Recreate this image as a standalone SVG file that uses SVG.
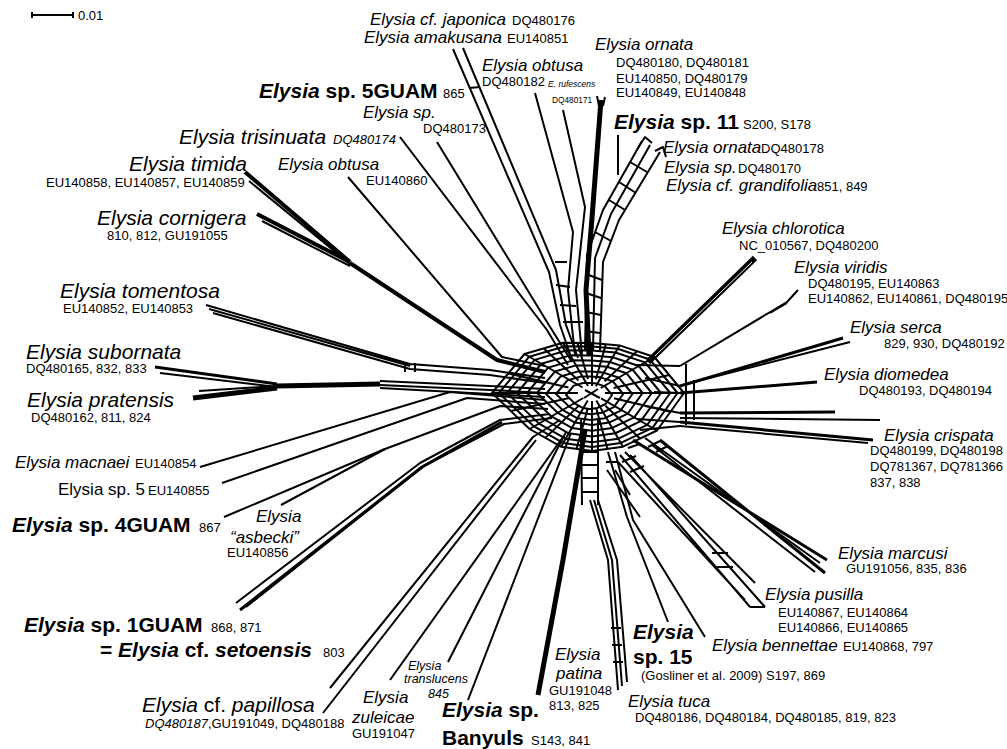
<svg xmlns="http://www.w3.org/2000/svg" width="1007" height="749" viewBox="0 0 1007 749">
<style>
text{font-family:"Liberation Sans",Arial,sans-serif;fill:#000}
.L{font-size:21px;font-style:italic}
.M{font-size:17px;font-style:italic}
.S{font-size:12.5px;font-style:italic}
.a{font-size:13px}
.B{font-size:21px;font-weight:bold}
.i{font-style:italic}
.n{font-style:normal}
.e{fill:none;stroke:#000;stroke-width:2;stroke-linejoin:round}
.t{fill:none;stroke:#000;stroke-width:2}
.r{fill:none;stroke:#000;stroke-width:2;stroke-linejoin:round}
.w3{stroke-width:3}
.w4{stroke-width:4}
.w5{stroke-width:5}
</style>
<rect width="1007" height="749" fill="#fff"/>
<g id="scale">
<path class="e" d="M32,15 L73,15 M32,12 L32,18 M73,12 L73,18"/>
<text class="a" x="78" y="20">0.01</text>
</g>
<g id="connectors">
<!-- upper branches -->
<path class="e" d="M453,49 L549,272 L560,325 L572,360"/>
<path class="e" d="M463,48 L556,270 L566,325 L578,358"/>
<path class="e" d="M469,88 L480,87"/>
<path class="e" d="M535,93 L573,232 L568,290 L575,355"/>
<path class="e" d="M563,110 L585,207 L576,290 L582,355"/>
<path class="e w5" d="M601,100 L592,218 L586,290 L589,355"/>
<path class="e" d="M597,96 L599,106 M605,97 L603,106"/>
<path class="e" d="M618,135 L618,175"/>
<path class="e" d="M642,141 L603,210 L587,255 L585,350 M650,145 L611,214 L595,258 L593,350 M660,152 L619,220 L603,262 L600,350"/>
<path class="e" d="M638,148 L645,137 L652,143 M655,151 L663,147 L666,157 M630,162 L647,172 M619,182 L636,193 M609,200 L625,210 M595,232 L611,241 M586,274 L602,280 M586,293 L601,298 M586,312 L601,315 M585,331 L600,333"/>
<path class="e" d="M556,285 L570,287 M560,305 L576,306 M563,322 L583,322 M555,262 L567,262"/>
<!-- upper left -->
<path class="e" d="M400,137 L547,330 L568,365"/>
<path class="e" d="M437,142 L547,322 L572,362"/>
<path class="e" d="M348,177 L502,357 L545,366"/>
<path class="e w4" d="M245,172 L350,262"/>
<path class="e" d="M249,181 L350,264"/>
<path class="e w4" d="M257,214 L350,262"/>
<path class="e" d="M262,221 L350,266"/>
<path class="e w4" d="M350,263 L497,360 L545,372"/>
<!-- left -->
<path class="e" d="M206,305 L410,364 L490,370 L545,378 M213,313 L410,369 L490,375 L545,383 M209,309 L410,366"/>
<path class="e" d="M405,362 L405,372 M415,363 L415,372"/>
<path class="e w3" d="M155,367 L277,384"/>
<path class="e" d="M160,373 L277,387"/>
<path class="e w5" d="M193,398 L277,388"/>
<path class="e" d="M199,391 L277,386"/>
<path class="e w5" d="M277,386 L380,384"/>
<path class="e" d="M380,381 L490,386 L545,389 M380,385 L490,390 L545,393 M380,388 L490,394 L545,397"/>
<path class="e" d="M200,467 L450,392 L545,400"/>
<path class="e" d="M222,483 L467,398 L545,404"/>
<path class="e" d="M224,517 L385,449 L500,406 L548,409"/>
<path class="e" d="M281,505 L385,449"/>
<path class="e" d="M236,603 L420,463 L500,420 L550,414 M246,607 L424,466 L504,424 L552,418"/>
<path class="e w3" d="M240,610 L422,467 L502,422"/>
<!-- lower -->
<path class="e" d="M330,688 L533,437 L560,420"/>
<path class="e" d="M323,713 L536,440"/>
<path class="e" d="M390,680 L563,437"/>
<path class="e" d="M448,662 L500,560 L566,432"/>
<path class="e" d="M468,700 L522,560 L571,433"/>
<path class="e w5" d="M538,695 L563,560 L585,430"/>
<path class="e" d="M581,420 L582,505 M598,420 L598,505 M581,452 L598,452 M581,465 L598,465 M581,478 L598,478 M582,492 L598,492"/>
<path class="e" d="M618,690 L608,560 L590,500 M627,682 L617,560 L598,500 M622,686 L612,560 L594,500"/>
<path class="e" d="M611,628 L621,628 M612,645 L622,645 M613,662 L623,662"/>
<path class="e" d="M668,622 L627,517 L608,452"/>
<path class="e" d="M705,637 L633,520 L615,452"/>
<path class="e" d="M607,470 L640,517 M615,470 L630,495 M606,462 L618,462"/>
<!-- lower right -->
<path class="e" d="M620,455 L750,607 M630,455 L765,607 M625,452 L755,583 M618,462 L745,600 M750,607 L765,607"/>
<path class="e" d="M712,553 L728,553 M716,567 L733,567 M628,448 L640,444 M622,462 L636,456 M630,472 L644,466 M648,447 L660,441 M656,452 L668,446"/>
<path class="e w3" d="M633,440 L827,560 M660,440 L825,573"/>
<path class="e" d="M645,438 L820,563 M652,445 L815,572"/>
<path class="e w3" d="M680,413 L835,412 M680,422 L873,440"/>
<path class="e" d="M680,418 L880,420 M680,426 L868,443"/>
<path class="e w3" d="M680,393 L817,382"/>
<path class="e w3" d="M680,386 L843,338"/>
<path class="e" d="M690,383 L850,342"/>
<path class="e" d="M680,366 L787,302 L798,290 M770,313 L787,303"/>
<path class="e" d="M648,362 L755,258" style="stroke-width:6"/>
<path d="M655,356 L752,262" style="stroke:#fff;stroke-width:1;fill:none"/>
<!-- right arm -->
<path class="e" d="M637,365 L680,366 M645,378 L680,386 M654,392 L680,393 M645,406 L680,413 M637,419 L680,422 M640,430 L680,426"/>
<path class="e" d="M686,364 L686,425 M694,380 L694,420"/>
<!-- core mesh: nested rings -->
<path class="r" vector-effect="non-scaling-stroke" transform="translate(590 395) scale(0.24)" d="M92,0 L65,37.5 L31,53.7 L0,58 L-31,53.7 L-62.4,36 L-100,0 L-67.5,-39 L-29,-50.2 L0,-50 L27.5,-47.6 L62.4,-36 Z"/>
<path class="r" vector-effect="non-scaling-stroke" transform="translate(591 394) scale(0.35)" d="M92,0 L65,37.5 L31,53.7 L0,58 L-31,53.7 L-62.4,36 L-100,0 L-67.5,-39 L-29,-50.2 L0,-50 L27.5,-47.6 L62.4,-36 Z"/>
<path class="r" vector-effect="non-scaling-stroke" transform="translate(591 394) scale(0.45)" d="M92,0 L65,37.5 L31,53.7 L0,58 L-31,53.7 L-62.4,36 L-100,0 L-67.5,-39 L-29,-50.2 L0,-50 L27.5,-47.6 L62.4,-36 Z"/>
<path class="r" vector-effect="non-scaling-stroke" transform="translate(592 393) scale(0.55)" d="M92,0 L65,37.5 L31,53.7 L0,58 L-31,53.7 L-62.4,36 L-100,0 L-67.5,-39 L-29,-50.2 L0,-50 L27.5,-47.6 L62.4,-36 Z"/>
<path class="r" vector-effect="non-scaling-stroke" transform="translate(592 393) scale(0.65)" d="M92,0 L65,37.5 L31,53.7 L0,58 L-31,53.7 L-62.4,36 L-100,0 L-67.5,-39 L-29,-50.2 L0,-50 L27.5,-47.6 L62.4,-36 Z"/>
<path class="r" vector-effect="non-scaling-stroke" transform="translate(592 393) scale(0.75)" d="M92,0 L65,37.5 L31,53.7 L0,58 L-31,53.7 L-62.4,36 L-100,0 L-67.5,-39 L-29,-50.2 L0,-50 L27.5,-47.6 L62.4,-36 Z"/>
<path class="r" vector-effect="non-scaling-stroke" transform="translate(592 393) scale(0.85)" d="M92,0 L65,37.5 L31,53.7 L0,58 L-31,53.7 L-62.4,36 L-100,0 L-67.5,-39 L-29,-50.2 L0,-50 L27.5,-47.6 L62.4,-36 Z"/>
<path class="r" vector-effect="non-scaling-stroke" transform="translate(592 393) scale(0.93)" d="M92,0 L65,37.5 L31,53.7 L0,58 L-31,53.7 L-62.4,36 L-100,0 L-67.5,-39 L-29,-50.2 L0,-50 L27.5,-47.6 L62.4,-36 Z"/>
<path class="r" vector-effect="non-scaling-stroke" transform="translate(592 393)" d="M92,0 L65,37.5 L31,53.7 L0,58 L-31,53.7 L-62.4,36 L-100,0 L-67.5,-39 L-29,-50.2 L0,-50 L27.5,-47.6 L62.4,-36 Z"/>
<!-- spokes -->
<path class="t" d="M585,390 L600,398 M584,398 L598,389 M604.9,393 L684,393 M601.1,398.3 L657,430.5 M596.3,400.5 L623,446.7 M592,401.1 L592,451 M587.7,400.5 L561,446.7 M583.3,398 L529.6,429 M578,393 L492,393 M582.6,387.5 L524.5,354 M588,386 L563,342.8 M592,386 L592,343 M595.9,386.3 L619.5,345.4 M600.7,388 L654.4,357"/>
<path class="t" d="M614,398.3 L670.5,411.8 M605.4,405.8 L640,438.6 M596.3,408.6 L607.5,448.9 M587.7,408.6 L576.5,448.9 M578.9,405.6 L545.3,437.9 M569.3,398 L510.8,411 M568.5,387.5 L508.3,373.5 M578.5,380.5 L543.8,348.4 M588,379 L577.5,342.9 M595.9,379.3 L605.8,344.2 M604.6,381.3 L637,351.2 M613.6,388 L669.2,375"/>
</g>
<g id="n-japonica"><text class="M" x="370" y="25">Elysia cf. japonica</text><text class="a" x="512" y="25">DQ480176</text></g>
<g id="n-amakusana"><text class="M" x="364" y="43">Elysia amakusana</text><text class="a" x="507" y="43">EU140851</text></g>
<g id="n-obtusa1"><text class="M" x="482" y="71">Elysia obtusa</text><text class="a" x="482" y="86">DQ480182</text></g>
<g id="n-rufescens"><text class="i" x="548" y="87" style="font-size:8.5px">E. rufescens</text><text x="552" y="103" style="font-size:8.3px">DQ480171</text></g>
<g id="n-ornata1"><text class="M" x="595" y="50">Elysia ornata</text><text class="a" x="616" y="67">DQ480180, DQ480181</text><text class="a" x="616" y="83">EU140850, DQ480179</text><text class="a" x="616" y="97">EU140849, EU140848</text></g>
<g id="n-5guam"><text class="B" x="259" y="98"><tspan class="i">Elysia</tspan> sp. 5GUAM</text><text class="a" x="443" y="98">865</text></g>
<g id="n-sp173"><text class="M" x="363" y="118">Elysia sp.</text><text class="a" x="423" y="133">DQ480173</text></g>
<g id="n-trisinuata"><text class="L" x="179" y="144">Elysia trisinuata</text><text class="a i" x="333" y="144">DQ480174</text></g>
<g id="n-obtusa2"><text class="M" x="278" y="170">Elysia obtusa</text><text class="a" x="366" y="185">EU140860</text></g>
<g id="n-timida"><text class="L" x="129" y="171">Elysia timida</text><text class="a" x="46" y="187">EU140858, EU140857, EU140859</text></g>
<g id="n-cornigera"><text class="L" x="97" y="225">Elysia cornigera</text><text class="a" x="107" y="240">810, 812, GU191055</text></g>
<g id="n-sp11"><text class="B" x="614" y="129"><tspan class="i">Elysia</tspan> sp. 11</text><text class="a" x="743" y="129">S200, S178</text></g>
<g id="n-ornata2"><text class="M" x="663" y="153">Elysia ornata</text><text class="a" x="761" y="153">DQ480178</text></g>
<g id="n-sp170"><text class="M" x="664" y="173">Elysia sp.</text><text class="a" x="738" y="173">DQ480170</text></g>
<g id="n-grandifolia"><text class="M" x="666" y="191">Elysia cf. grandifolia</text><text class="a" x="817" y="191">851, 849</text></g>
<g id="n-chlorotica"><text class="M" x="722" y="234">Elysia chlorotica</text><text class="a" x="739" y="250">NC_010567, DQ480200</text></g>
<g id="n-viridis"><text class="M" x="794" y="273">Elysia viridis</text><text class="a" x="808" y="288">DQ480195, EU140863</text><text class="a" x="808" y="303">EU140862, EU140861, DQ480195</text></g>
<g id="n-serca"><text class="M" x="850" y="333">Elysia serca</text><text class="a" x="884" y="348">829, 930, DQ480192</text></g>
<g id="n-diomedea"><text class="M" x="824" y="380">Elysia diomedea</text><text class="a" x="859" y="395">DQ480193, DQ480194</text></g>
<g id="n-crispata"><text class="M" x="884" y="441">Elysia crispata</text><text class="a" x="870" y="455">DQ480199, DQ480198</text><text class="a" x="870" y="471">DQ781367, DQ781366</text><text class="a" x="870" y="487">837, 838</text></g>
<g id="n-marcusi"><text class="M" x="838" y="559">Elysia marcusi</text><text class="a" x="846" y="573">GU191056, 835, 836</text></g>
<g id="n-pusilla"><text class="M" x="765" y="600">Elysia pusilla</text><text class="a" x="778" y="617">EU140867, EU140864</text><text class="a" x="778" y="632">EU140866, EU140865</text></g>
<g id="n-bennettae"><text class="M" x="712" y="651">Elysia bennettae</text><text class="a" x="843" y="651">EU140868, 797</text></g>
<g id="n-sp15"><text class="B i" x="633" y="639">Elysia</text><text class="B" x="633" y="664">sp. 15</text><text class="a" x="641" y="680">(Gosliner et al. 2009) S197, 869</text></g>
<g id="n-tuca"><text class="M" x="628" y="707">Elysia tuca</text><text class="a" x="635" y="722">DQ480186, DQ480184, DQ480185, 819, 823</text></g>
<g id="n-patina"><text class="M" x="555" y="660">Elysia</text><text class="M" x="556" y="679">patina</text><text class="a" x="549" y="695">GU191048</text><text class="a" x="549" y="710">813, 825</text></g>
<g id="n-banyuls"><text class="B" x="442" y="717"><tspan class="i">Elysia</tspan> sp.</text><text class="B" x="442" y="745">Banyuls</text><text class="a" x="531" y="745">S143, 841</text></g>
<g id="n-translucens"><text class="S" x="408" y="670">Elysia</text><text class="S" x="404" y="683">translucens</text><text class="S" x="428" y="698">845</text></g>
<g id="n-zuleicae"><text class="M" x="363" y="703">Elysia</text><text class="M" x="352" y="723">zuleicae</text><text class="a" x="352" y="738">GU191047</text></g>
<g id="n-papillosa"><text class="L" x="142" y="712">Elysia <tspan class="n">cf.</tspan> papillosa</text><text class="a" x="145" y="728"><tspan class="i">DQ480187</tspan>,GU191049, DQ480188</text></g>
<g id="n-1guam"><text class="B" x="24" y="632"><tspan class="i">Elysia</tspan> sp. 1GUAM</text><text class="a" x="211" y="632">868, 871</text><text class="B" x="100" y="657">= <tspan class="i">Elysia</tspan> cf. <tspan class="i">setoensis</tspan></text><text class="a" x="323" y="657">803</text></g>
<g id="n-4guam"><text class="B" x="12" y="532"><tspan class="i">Elysia</tspan> sp. 4GUAM</text><text class="a" x="199" y="532">867</text></g>
<g id="n-asbecki"><text class="M" x="256" y="522">Elysia</text><text class="M" x="230" y="543">“asbecki”</text><text class="a" x="227" y="557">EU140856</text></g>
<g id="n-sp5"><text x="58" y="495" style="font-size:17px">Elysia sp. 5</text><text class="a" x="148" y="495">EU140855</text></g>
<g id="n-macnaei"><text class="M" x="15" y="468">Elysia macnaei</text><text class="a" x="135" y="468">EU140854</text></g>
<g id="n-tomentosa"><text class="L" x="60" y="298">Elysia tomentosa</text><text class="a" x="63" y="313">EU140852, EU140853</text></g>
<g id="n-subornata"><text class="L" x="26" y="359">Elysia subornata</text><text class="a" x="26" y="373">DQ480165, 832, 833</text></g>
<g id="n-pratensis"><text class="L" x="27" y="407">Elysia pratensis</text><text class="a" x="31" y="422">DQ480162, 811, 824</text></g>
</svg>
